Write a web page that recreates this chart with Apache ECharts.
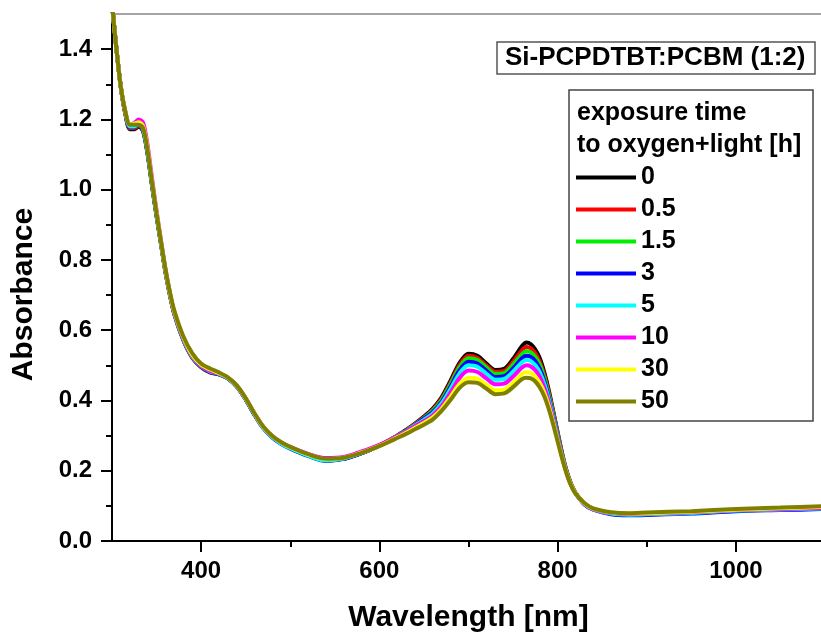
<!DOCTYPE html>
<html>
<head>
<meta charset="utf-8">
<script src="https://cdn.jsdelivr.net/npm/echarts@6/dist/echarts.min.js"></script>
<style>
  html, body { margin: 0; padding: 0; background: #fff; }
  #chart { width: 821px; height: 636px; }
</style>
</head>
<body>
<div id="chart"></div>
<script>
// wavelength grid [nm]
var wavelength = [300,305,310,315,320,325,330,335,340,345,350,355,360,365,370,
  380,390,400,410,420,430,440,450,460,470,480,490,500,
  520,540,560,580,590,600,610,620,630,640,650,660,
  670,680,690,700,710,720,730,740,750,760,
  765,770,775,780,785,790,795,800,805,810,815,820,
  830,840,860,880,900,950,1000,1050,1100];

// exposure time to oxygen+light [h]
var hours = ['0', '0.5', '1.5', '3', '5', '10', '30', '50'];

// absorbance, one array per exposure time
var abs0 = [1.53,1.40,1.29,1.215,1.172,1.172,1.18,1.165,1.10,1.01,0.925,0.845,0.765,0.70,0.645,
  0.572,0.522,0.495,0.48,0.474,0.463,0.44,0.404,0.36,0.322,0.296,0.278,0.265,
  0.244,0.229,0.234,0.25,0.26,0.272,0.285,0.30,0.316,0.334,0.354,0.377,
  0.41,0.457,0.507,0.533,0.527,0.505,0.487,0.49,0.518,0.555,
  0.565,0.56,0.545,0.52,0.48,0.43,0.37,0.31,0.25,0.20,0.163,0.137,
  0.106,0.091,0.079,0.076,0.077,0.081,0.088,0.091,0.094];
var abs05 = [1.53,1.40,1.29,1.217,1.175,1.175,1.182,1.168,1.102,1.012,0.926,0.846,0.766,0.70,0.646,
  0.573,0.523,0.496,0.481,0.474,0.463,0.44,0.404,0.36,0.322,0.296,0.278,0.265,
  0.244,0.23,0.235,0.25,0.26,0.272,0.285,0.30,0.315,0.333,0.352,0.374,
  0.406,0.452,0.501,0.527,0.521,0.50,0.482,0.484,0.51,0.543,
  0.552,0.548,0.534,0.51,0.472,0.424,0.366,0.306,0.248,0.199,0.162,0.137,
  0.106,0.091,0.079,0.076,0.077,0.081,0.088,0.091,0.094];
var abs15 = [1.53,1.40,1.29,1.218,1.178,1.178,1.185,1.17,1.104,1.014,0.928,0.847,0.768,0.702,0.647,
  0.574,0.524,0.497,0.482,0.475,0.463,0.44,0.404,0.36,0.322,0.296,0.278,0.265,
  0.244,0.23,0.235,0.25,0.26,0.271,0.284,0.299,0.314,0.331,0.35,0.371,
  0.402,0.447,0.495,0.52,0.515,0.494,0.476,0.478,0.502,0.532,
  0.54,0.537,0.524,0.502,0.466,0.418,0.362,0.303,0.246,0.198,0.162,0.137,
  0.105,0.09,0.078,0.075,0.076,0.08,0.087,0.09,0.093];
var abs3 = [1.53,1.40,1.29,1.218,1.178,1.178,1.185,1.17,1.104,1.014,0.928,0.847,0.768,0.702,0.647,
  0.574,0.524,0.497,0.482,0.475,0.463,0.44,0.403,0.358,0.32,0.294,0.276,0.263,
  0.242,0.228,0.234,0.25,0.26,0.271,0.284,0.298,0.313,0.33,0.348,0.367,
  0.397,0.44,0.486,0.51,0.505,0.485,0.467,0.469,0.491,0.52,
  0.527,0.524,0.512,0.49,0.456,0.41,0.356,0.298,0.243,0.196,0.16,0.136,
  0.104,0.089,0.076,0.073,0.074,0.078,0.085,0.088,0.091];
var abs5 = [1.53,1.40,1.29,1.22,1.18,1.18,1.188,1.172,1.106,1.016,0.93,0.848,0.769,0.703,0.648,
  0.575,0.525,0.498,0.483,0.476,0.464,0.441,0.404,0.36,0.321,0.295,0.277,0.264,
  0.243,0.229,0.235,0.251,0.261,0.271,0.284,0.298,0.312,0.329,0.345,0.363,
  0.392,0.433,0.477,0.50,0.496,0.476,0.459,0.461,0.482,0.509,
  0.515,0.512,0.50,0.48,0.448,0.404,0.351,0.295,0.241,0.195,0.16,0.136,
  0.105,0.09,0.078,0.075,0.076,0.08,0.087,0.09,0.093];
var abs10 = [1.53,1.40,1.29,1.222,1.185,1.19,1.20,1.19,1.125,1.03,0.94,0.855,0.774,0.706,0.65,
  0.577,0.527,0.499,0.484,0.477,0.465,0.442,0.406,0.362,0.324,0.298,0.28,0.268,
  0.248,0.236,0.239,0.255,0.264,0.274,0.285,0.298,0.311,0.327,0.341,0.358,
  0.385,0.423,0.464,0.485,0.481,0.463,0.446,0.448,0.468,0.494,
  0.50,0.497,0.486,0.467,0.437,0.396,0.346,0.292,0.24,0.195,0.16,0.136,
  0.106,0.091,0.08,0.077,0.078,0.082,0.088,0.091,0.094];
var abs30 = [1.53,1.40,1.29,1.222,1.185,1.188,1.192,1.18,1.115,1.022,0.935,0.852,0.772,0.706,0.652,
  0.58,0.53,0.502,0.488,0.478,0.465,0.442,0.406,0.362,0.324,0.298,0.28,0.267,
  0.246,0.233,0.237,0.252,0.261,0.271,0.282,0.295,0.308,0.322,0.336,0.352,
  0.377,0.411,0.447,0.465,0.462,0.445,0.429,0.431,0.45,0.475,
  0.48,0.478,0.468,0.45,0.423,0.385,0.338,0.287,0.237,0.193,0.159,0.136,
  0.107,0.092,0.081,0.078,0.079,0.083,0.089,0.093,0.097];
var abs50 = [1.53,1.40,1.29,1.222,1.185,1.185,1.185,1.175,1.11,1.02,0.933,0.852,0.774,0.708,0.655,
  0.583,0.535,0.505,0.491,0.48,0.466,0.443,0.407,0.363,0.325,0.299,0.281,0.268,
  0.247,0.234,0.237,0.251,0.26,0.27,0.281,0.293,0.305,0.318,0.331,0.346,
  0.371,0.402,0.436,0.452,0.45,0.434,0.418,0.42,0.438,0.461,
  0.465,0.463,0.454,0.437,0.412,0.376,0.332,0.283,0.235,0.192,0.158,0.135,
  0.108,0.093,0.082,0.079,0.081,0.085,0.091,0.095,0.099];

var absorbance = [abs0, abs05, abs15, abs3, abs5, abs10, abs30, abs50];

// tick labels and minor tick positions
var xTickLabels = [400, 600, 800, 1000];
var xMinorTicks = [500, 700, 900];
var yTickLabels = [0, 0.2, 0.4, 0.6, 0.8, 1.0, 1.2, 1.4];
var yMinorTicks = [0.1, 0.3, 0.5, 0.7, 0.9, 1.1, 1.3];

var lineColors = ['#000000', '#ff0000', '#00ee00', '#0000ff', '#00ffff', '#ff00ff', '#ffff00', '#808000'];
var FONT = "'Liberation Sans', Arial, Helvetica, sans-serif";

var chart = echarts.init(document.getElementById('chart'), null, { renderer: 'canvas' });

var series = hours.map(function (h, i) {
  return {
    name: h,
    type: 'line',
    xAxisIndex: 0,
    yAxisIndex: 0,
    data: wavelength.map(function (w, k) { return [w, absorbance[i][k]]; }),
    showSymbol: false,
    symbol: 'none',
    smooth: 0.3,
    lineStyle: { color: lineColors[i], width: 4 },
    itemStyle: { color: lineColors[i] },
    z: 2 + i
  };
});

var gridBox = { left: 112, top: 14, width: 713, bottom: 95, outerBoundsMode: 'none', containLabel: false };

var option = {
  backgroundColor: '#ffffff',
  animation: false,
  title: [
    {
      text: 'Si-PCPDTBT:PCBM (1:2)',
      left: 497, top: 42,
      padding: [3, 10, 3, 8],
      borderColor: '#555', borderWidth: 1.5,
      textStyle: { fontFamily: FONT, fontWeight: 'bold', fontSize: 26, color: '#000', lineHeight: 26 }
    },
    {
      text: 'exposure time\nto oxygen+light [h]',
      left: 577, top: 97,
      padding: 0,
      textStyle: { fontFamily: FONT, fontWeight: 'bold', fontSize: 25, color: '#000', lineHeight: 32 }
    }
  ],
  graphic: [
    {
      type: 'rect',
      shape: { x: 569, y: 90, width: 244, height: 331 },
      style: { fill: 'none', stroke: '#444', lineWidth: 1.5 },
      z: 1
    }
  ],
  legend: {
    data: hours,
    orient: 'vertical',
    left: 576, top: 165,
    padding: 0,
    itemGap: 7,
    itemWidth: 60,
    itemHeight: 4,
    icon: 'rect',
    textStyle: { fontFamily: FONT, fontWeight: 'bold', fontSize: 25, color: '#000', lineHeight: 25 }
  },
  grid: [gridBox, Object.assign({}, gridBox)],
  xAxis: [
    {
      gridIndex: 0, type: 'value', position: 'bottom',
      min: 300, max: 1100,
      name: 'Wavelength [nm]', nameLocation: 'middle', nameGap: 62,
      nameTextStyle: { fontFamily: FONT, fontWeight: 'bold', fontSize: 30, color: '#000' },
      axisLine: { show: true, onZero: false, lineStyle: { color: '#000', width: 2 } },
      axisTick: { show: true, inside: false, length: 11, customValues: xTickLabels, lineStyle: { color: '#000', width: 2 } },
      axisLabel: {
        customValues: xTickLabels, margin: 18,
        formatter: function (v) { return String(v); },
        fontFamily: FONT, fontWeight: 'bold', fontSize: 24, color: '#000'
      },
      splitLine: { show: false }
    },
    {
      gridIndex: 1, type: 'value', position: 'bottom',
      min: 300, max: 1100,
      axisLine: { show: true, onZero: false, lineStyle: { color: '#000', width: 2 } },
      axisTick: { show: true, inside: false, length: 6, customValues: xMinorTicks, lineStyle: { color: '#000', width: 2 } },
      axisLabel: { show: false },
      splitLine: { show: false }
    },
    {
      gridIndex: 1, type: 'value', position: 'top',
      min: 300, max: 1100,
      axisLine: { show: true, onZero: false, lineStyle: { color: '#888', width: 1.5 } },
      axisTick: { show: false },
      axisLabel: { show: false },
      splitLine: { show: false }
    }
  ],
  yAxis: [
    {
      gridIndex: 0, type: 'value', position: 'left',
      min: 0, max: 1.5,
      name: 'Absorbance', nameLocation: 'middle', nameGap: 73,
      nameTextStyle: { fontFamily: FONT, fontWeight: 'bold', fontSize: 30, color: '#000', padding: [0, 34, 0, 0] },
      axisLine: { show: true, onZero: false, lineStyle: { color: '#000', width: 2 } },
      axisTick: { show: true, inside: false, length: 11, customValues: yTickLabels, lineStyle: { color: '#000', width: 2 } },
      axisLabel: {
        customValues: yTickLabels, margin: 20,
        formatter: function (v) { return v.toFixed(1); },
        fontFamily: FONT, fontWeight: 'bold', fontSize: 24, color: '#000'
      },
      splitLine: { show: false }
    },
    {
      gridIndex: 1, type: 'value', position: 'left',
      min: 0, max: 1.5,
      axisLine: { show: true, onZero: false, lineStyle: { color: '#000', width: 2 } },
      axisTick: { show: true, inside: false, length: 6, customValues: yMinorTicks, lineStyle: { color: '#000', width: 2 } },
      axisLabel: { show: false },
      splitLine: { show: false }
    }
  ],
  series: series
};

chart.setOption(option);
</script>
</body>
</html>
